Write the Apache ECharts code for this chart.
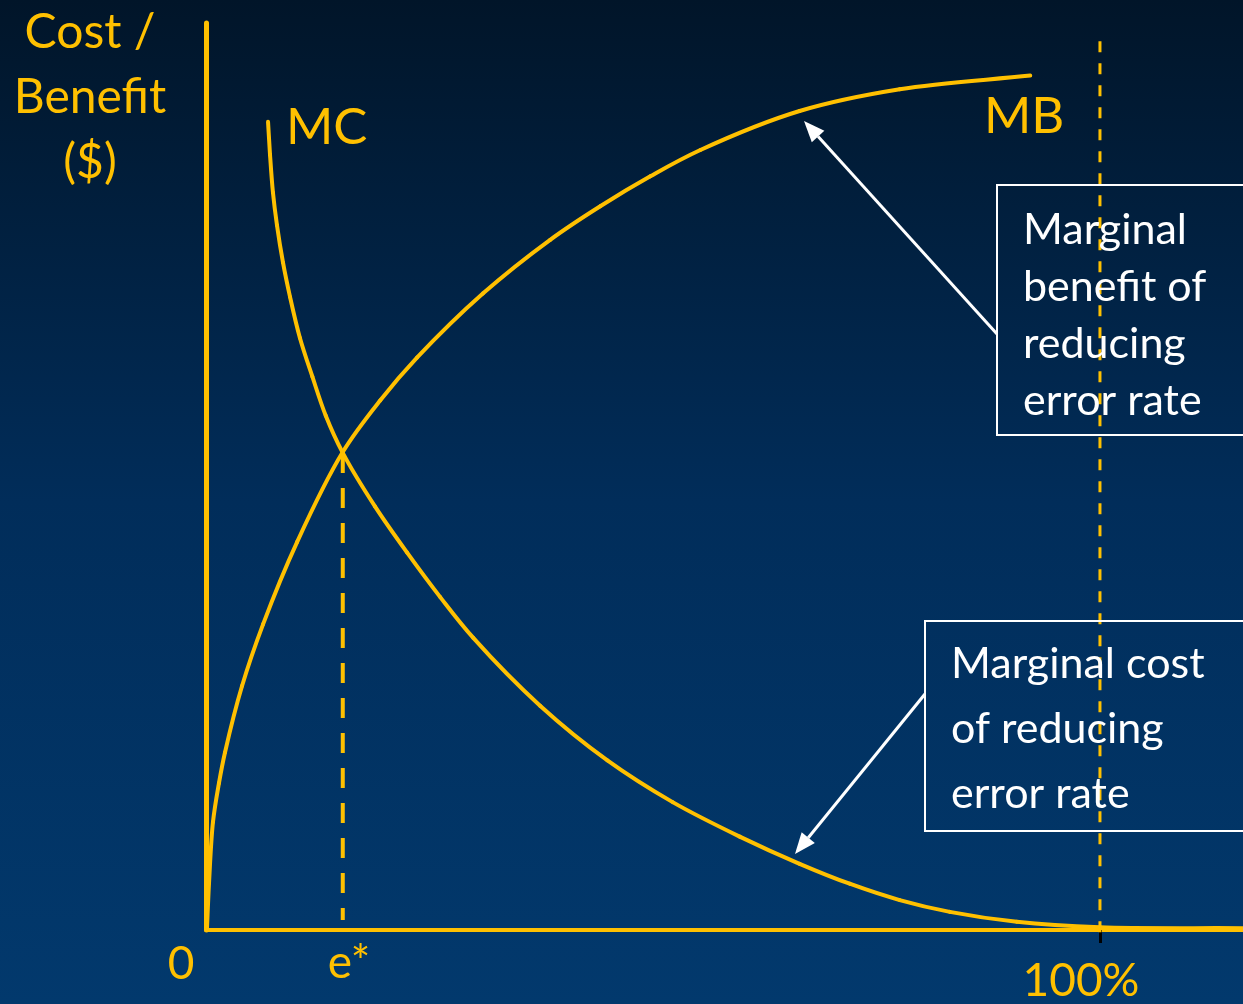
<!DOCTYPE html>
<html>
<head>
<meta charset="utf-8">
<title>MC / MB</title>
<script src="https://cdn.jsdelivr.net/npm/echarts@6/dist/echarts.min.js"></script>
<style>
  html, body { margin: 0; padding: 0; }
  #chart { width: 1243px; height: 1004px; }
</style>
</head>
<body>
<div id="chart"></div>
<script>
// Dados (x = % de redução do erro, y = custo/benefício)
const mbX = [0.1, 0.34, 0.78, 1.45, 2.13, 4.03, 6.38, 10.2, 15.3, 19.5, 23.6, 31.0, 38.5, 44.1, 49.7, 55.3, 66.4, 77.6, 92.2];
const mbY = [0, 5.2, 11.9, 16.2, 19.6, 26.9, 33.7, 42.8, 52.7, 58.4, 63.1, 70.2, 76.1, 79.8, 83.1, 86.0, 90.3, 92.7, 94.2];

const mcX = [6.94, 7.16, 7.49, 7.94, 8.61, 9.40, 10.5, 11.9, 13.4, 15.3, 18.9, 22.5, 26.2, 29.9, 37.4, 44.9, 52.2, 59.7, 66.4, 72.0, 77.6, 83.2, 90.7, 100, 116];
const mcY = [89.1, 85.5, 81.3, 77.7, 73.6, 69.8, 65.3, 61.0, 56.7, 52.6, 46.7, 41.6, 36.7, 32.2, 24.7, 18.7, 14.1, 10.3, 7.3, 5.1, 3.3, 2.0, 0.9, 0.3, 0.2];

// ponto ótimo e* e linha dos 100%
const eStarX = 15.3;
const eStarY = [52.6, 1.1];
const fullX = 100;
const fullY = [98, -1.2];

const xTickLabels = ['0', 'e*', '100%'];

const YELLOW = '#FFC000';
const FONT = 'Lato, "Open Sans", sans-serif';

const pairs = (xs, ys) => xs.map((x, i) => [x, ys[i]]);

// Curva suave (Catmull-Rom centrípeta -> segmentos bezier) passando pelos pontos
function splineSegments(p) {
    const segs = [];
    const dist = (a, b) => Math.pow(Math.hypot(b[0] - a[0], b[1] - a[1]), 0.5) || 1e-6;
    for (let i = 0; i < p.length - 1; i++) {
        const p1 = p[i], p2 = p[i + 1];
        const p0 = i > 0 ? p[i - 1] : [2 * p1[0] - p2[0], 2 * p1[1] - p2[1]];
        const p3 = i < p.length - 2 ? p[i + 2] : [2 * p2[0] - p1[0], 2 * p2[1] - p1[1]];
        const d1 = dist(p0, p1), d2 = dist(p1, p2), d3 = dist(p2, p3);
        const c1 = [0, 1].map(k => (d1 * d1 * p2[k] - d2 * d2 * p0[k] + (2 * d1 * d1 + 3 * d1 * d2 + d2 * d2) * p1[k]) / (3 * d1 * (d1 + d2)));
        const c2 = [0, 1].map(k => (d3 * d3 * p1[k] - d2 * d2 * p3[k] + (2 * d3 * d3 + 3 * d3 * d2 + d2 * d2) * p2[k]) / (3 * d3 * (d3 + d2)));
        segs.push({
            type: 'bezierCurve',
            shape: { x1: p1[0], y1: p1[1], cpx1: c1[0], cpy1: c1[1], cpx2: c2[0], cpy2: c2[1], x2: p2[0], y2: p2[1] },
            style: { stroke: YELLOW, lineWidth: 4, fill: null, lineCap: 'round' }
        });
    }
    return segs;
}

function curveSeries(name, xs, ys) {
    const pts = pairs(xs, ys);
    return {
        name: name, type: 'custom', coordinateSystem: 'cartesian2d',
        data: [pts[0]], silent: true, z: 3,
        renderItem: function (params, api) {
            return { type: 'group', children: splineSegments(pts.map(d => api.coord(d))) };
        }
    };
}

// Seta simples (linha + ponta triangular)
function arrow(x1, y1, x2, y2) {
    const ang = Math.atan2(y2 - y1, x2 - x1);
    const len = 21, half = 8.5;
    const bx = x2 - len * Math.cos(ang), by = y2 - len * Math.sin(ang);
    const px = -Math.sin(ang) * half, py = Math.cos(ang) * half;
    return [
        { type: 'line', shape: { x1: x1, y1: y1, x2: bx, y2: by }, style: { stroke: '#fff', lineWidth: 3 }, z: 10 },
        { type: 'polygon', shape: { points: [[x2, y2], [bx + px, by + py], [bx - px, by - py]] }, style: { fill: '#fff' }, z: 10 }
    ];
}

function txt(x, y, text, size, color, extra) {
    return {
        type: 'text', x: x, y: y, z: 10,
        style: Object.assign({
            text: text, fill: color, fontSize: size, fontFamily: FONT,
            textAlign: 'left', textVerticalAlign: 'middle'
        }, extra || {})
    };
}

const chart = echarts.init(document.getElementById('chart'));

const option = {
    animation: false,
    backgroundColor: new echarts.graphic.LinearGradient(0, 0, 0, 1, [
        { offset: 0, color: '#011529' },
        { offset: 0.5, color: '#012d5a' },
        { offset: 1, color: '#02396d' }
    ]),
    grid: { left: 206, right: 0, top: 23, bottom: 74 },
    xAxis: {
        type: 'value', min: 0, max: 116,
        axisLine: { show: true, onZero: false, lineStyle: { color: YELLOW, width: 4 } },
        axisTick: { show: true, customValues: [fullX], length: 13, lineStyle: { color: '#000', width: 3 } },
        axisLabel: { show: false },
        splitLine: { show: false }
    },
    yAxis: {
        type: 'value', min: 0, max: 100,
        axisLine: { show: true, lineStyle: { color: YELLOW, width: 5 } },
        axisTick: { show: false },
        axisLabel: { show: false },
        splitLine: { show: false }
    },
    series: [
        curveSeries('MB', mbX, mbY),
        curveSeries('MC', mcX, mcY),
        {
            name: 'e*', type: 'line', data: pairs([eStarX, eStarX], eStarY),
            showSymbol: false,
            lineStyle: { color: YELLOW, width: 4, type: [20, 15] }
        },
        {
            name: '100%', type: 'line', data: pairs([fullX, fullX], fullY),
            showSymbol: false, clip: false,
            lineStyle: { color: YELLOW, width: 3, type: [11, 11] }
        }
    ],
    graphic: [
        // título do eixo y
        txt(90, 0, 'Cost /\nBenefit\n($)', 48, YELLOW, { textAlign: 'center', textVerticalAlign: 'top', lineHeight: 65 }),
        txt(286, 128, 'MC', 51, YELLOW),
        txt(984, 117, 'MB', 51, YELLOW),
        // rótulos do eixo x
        txt(181, 964, xTickLabels[0], 46, YELLOW, { textAlign: 'center' }),
        txt(349, 963, xTickLabels[1], 46, YELLOW, { textAlign: 'center' }),
        txt(1081, 981, xTickLabels[2], 46, YELLOW, { textAlign: 'center' }),
        // caixas de anotação
        { type: 'rect', shape: { x: 997, y: 185, width: 260, height: 250 }, style: { fill: 'none', stroke: '#fff', lineWidth: 2 }, z: 9 },
        txt(1023, 230, 'Marginal\nbenefit of\nreducing\nerror rate', 43, '#fff', { textVerticalAlign: 'top', lineHeight: 57, y: -28 }),
        { type: 'rect', shape: { x: 925, y: 621, width: 330, height: 210 }, style: { fill: 'none', stroke: '#fff', lineWidth: 2 }, z: 9 },
        txt(951, 664, 'Marginal cost\nof reducing\nerror rate', 43, '#fff', { textVerticalAlign: 'top', lineHeight: 65, y: -32 })
    ].concat(arrow(997, 334, 804, 121), arrow(925, 694, 795, 854))
};

chart.setOption(option);
</script>
</body>
</html>
